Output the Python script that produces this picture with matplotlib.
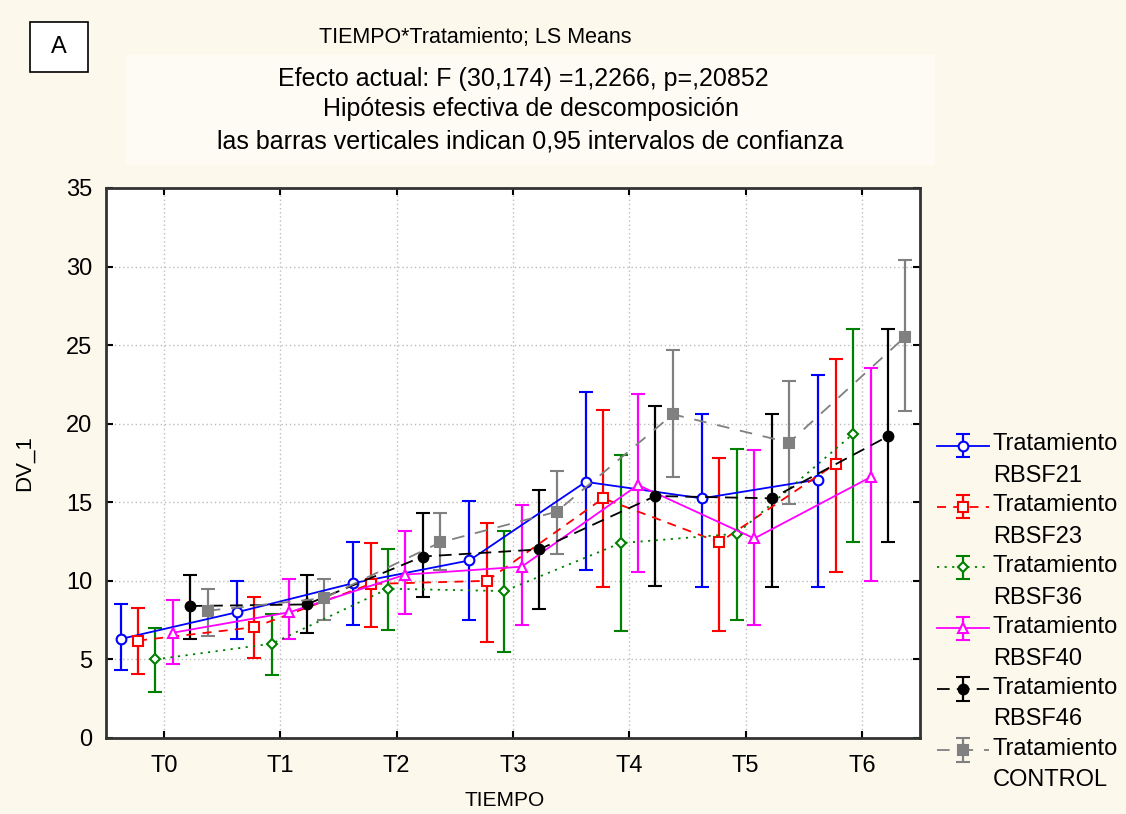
import numpy as np
import matplotlib.pyplot as plt
from matplotlib.patches import Rectangle
from matplotlib.container import ErrorbarContainer
from matplotlib.legend_handler import HandlerErrorbar

plt.rcParams['font.family'] = ['Liberation Sans', 'DejaVu Sans']

times = ['T0', 'T1', 'T2', 'T3', 'T4', 'T5', 'T6']
labels = ['Tratamiento\nRBSF21', 'Tratamiento\nRBSF23', 'Tratamiento\nRBSF36',
          'Tratamiento\nRBSF40', 'Tratamiento\nRBSF46', 'Tratamiento\nCONTROL']

# LS means and 0.95 confidence limits
rbsf21 = [6.3, 8.0, 9.85, 11.3, 16.3, 15.25, 16.45]
rbsf21_lo = [4.3, 6.3, 7.2, 7.5, 10.7, 9.6, 9.6]
rbsf21_hi = [8.5, 10.0, 12.45, 15.1, 22.05, 20.6, 23.1]

rbsf23 = [6.2, 7.05, 9.8, 10.0, 15.25, 12.45, 17.45]
rbsf23_lo = [4.1, 5.1, 7.05, 6.1, 9.6, 6.8, 10.55]
rbsf23_hi = [8.3, 9.0, 12.4, 13.7, 20.9, 17.85, 24.1]

rbsf36 = [5.0, 6.0, 9.5, 9.35, 12.4, 13.0, 19.35]
rbsf36_lo = [2.9, 4.0, 6.9, 5.5, 6.8, 7.5, 12.45]
rbsf36_hi = [7.0, 7.9, 12.05, 13.2, 18.0, 18.4, 26.05]

rbsf40 = [6.7, 8.0, 10.4, 10.9, 16.1, 12.7, 16.6]
rbsf40_lo = [4.7, 6.3, 7.9, 7.2, 10.55, 7.2, 10.0]
rbsf40_hi = [8.8, 10.1, 13.2, 14.85, 21.9, 18.3, 23.55]

rbsf46 = [8.4, 8.5, 11.55, 12.0, 15.4, 15.25, 19.2]
rbsf46_lo = [6.3, 6.7, 9.0, 8.2, 9.7, 9.6, 12.45]
rbsf46_hi = [10.4, 10.4, 14.3, 15.8, 21.1, 20.6, 26.05]

control = [8.1, 8.9, 12.45, 14.4, 20.6, 18.8, 25.55]
control_lo = [6.5, 7.5, 10.7, 11.7, 16.6, 14.9, 20.8]
control_hi = [9.5, 10.1, 14.3, 17.0, 24.7, 22.75, 30.4]

series = [
    (rbsf21, rbsf21_lo, rbsf21_hi, 'blue', 'o', '-', 'white'),
    (rbsf23, rbsf23_lo, rbsf23_hi, 'red', 's', (0, (5, 4)), 'white'),
    (rbsf36, rbsf36_lo, rbsf36_hi, 'green', 'D', (0, (1.2, 3)), 'white'),
    (rbsf40, rbsf40_lo, rbsf40_hi, 'magenta', '^', '-', 'white'),
    (rbsf46, rbsf46_lo, rbsf46_hi, 'black', 'o', (0, (7, 4)), 'black'),
    (control, control_lo, control_hi, 'gray', 's', (0, (7, 6)), 'gray'),
]


class UpErrorbar(HandlerErrorbar):
    # lift the handle so it sits level with the first line of the label
    def create_artists(self, legend, orig_handle, xdescent, ydescent,
                       width, height, fontsize, trans):
        return super().create_artists(legend, orig_handle, xdescent,
                                      ydescent - 1.25 * fontsize, width,
                                      height, fontsize, trans)


bg = '#fdf8ec'
fig = plt.figure(figsize=(11.26, 8.14), dpi=100, facecolor=bg)
ax = fig.add_axes([106 / 1126, 1 - 738 / 814, (920 - 106) / 1126, (738 - 188) / 814])
ax.set_facecolor('white')

x = np.arange(len(times))
handles = []
for i, (m, lo, hi, col, mk, ls, fc) in enumerate(series):
    m = np.array(m)
    err = [m - np.array(lo), np.array(hi) - m]
    xs = x + (i - 2.5) * 0.15
    msize = 5 if mk == 'D' else 7
    h = ax.errorbar(xs, m, yerr=err, color=col, marker=mk, ms=msize, mfc=fc,
                    mec=col, mew=1.5, ls=ls, lw=1.3, elinewidth=1.6,
                    capsize=5, capthick=1.6, zorder=3)
    handles.append(h)

ax.set_xlim(-0.5, 6.5)
ax.set_ylim(0, 35)
ax.set_xticks(x)
ax.set_xticklabels(times)
ax.set_yticks(np.arange(0, 36, 5))
ax.tick_params(direction='in', length=5, width=1.5, labelsize=17,
               top=True, right=True, pad=12)
ax.tick_params(axis='y', pad=10)
ax.grid(True, color='#bdbdbd', ls=(0, (1, 2)), lw=1)
ax.set_axisbelow(True)
for s in ax.spines.values():
    s.set_color('#333333')
    s.set_linewidth(2)

ax.set_ylabel('DV_1', fontsize=16, labelpad=22)
fig.text(505 / 1126, 1 - 801 / 814, 'TIEMPO', fontsize=15, ha='center', va='center')

# header
fig.patches.append(Rectangle((125 / 1126, 1 - 165 / 814), 810 / 1126, 110 / 814,
                             transform=fig.transFigure, facecolor='#fefbf4',
                             edgecolor='none', zorder=0))
fig.text(475 / 1126, 1 - 37 / 814, 'TIEMPO*Tratamiento; LS Means', fontsize=15.5,
         ha='center', va='center')
fig.text(523 / 1126, 1 - 79 / 814, 'Efecto actual: F (30,174) =1,2266, p=,20852',
         fontsize=18, ha='center', va='center')
fig.text(531 / 1126, 1 - 109 / 814, 'Hipótesis efectiva de descomposición',
         fontsize=18, ha='center', va='center')
fig.text(530 / 1126, 1 - 142 / 814,
         'las barras verticales indican 0,95 intervalos de confianza',
         fontsize=18, ha='center', va='center')

# panel letter
fig.patches.append(Rectangle((30 / 1126, 1 - 72 / 814), 58 / 1126, 50 / 814,
                             transform=fig.transFigure, facecolor='white',
                             edgecolor='black', lw=1.2))
fig.text(59 / 1126, 1 - 47 / 814, 'A', fontsize=17, ha='center', va='center')

leg = fig.legend(handles, labels, loc='upper left',
                 bbox_to_anchor=(928 / 1126, 1 - 424 / 814), frameon=False,
                 fontsize=17, handlelength=2.2, handletextpad=0.15,
                 labelspacing=0.32, borderaxespad=0,
                 handler_map={ErrorbarContainer: UpErrorbar()})
for t in leg.get_texts():
    t.set_linespacing(1.55)

fig.savefig('out.png', dpi=100, facecolor=bg)
